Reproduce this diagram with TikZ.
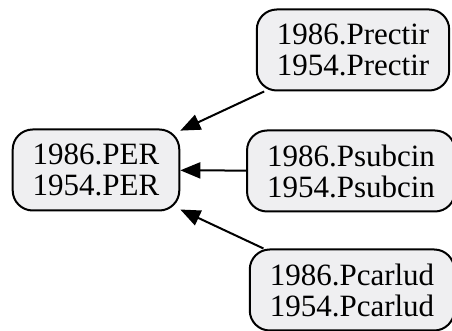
\documentclass[tikz,border=0pt]{standalone}
\usepackage{fontspec}
\setmainfont{Liberation Serif}
\usetikzlibrary{arrows.meta}
\definecolor{boxfill}{HTML}{EFEFF1}
\tikzset{
  var/.style={draw, line width=1pt, rounded corners=10pt, fill=boxfill,
    align=center, inner xsep=10pt, minimum height=40.5pt,
    font=\fontsize{15.5}{15.5}\selectfont},
  dep/.style={line width=1pt, -{Triangle[length=10pt,width=8pt]}}
}
\begin{document}
\begin{tikzpicture}[x=0.5pt,y=-0.5pt]
      % Fix the picture size
      \useasboundingbox (0,0) rectangle (452,331);

      % Draw the variable boxes
      \node[var] (per) at (96,170) {1986.PER\\1954.PER};
      \node[var] (prectir) at (353,50) {1986.Prectir\\1954.Prectir};
      \node[var] (psubcin) at (351,171) {1986.Psubcin\\1954.Psubcin};
      \node[var] (pcarlud) at (352,290) {1986.Pcarlud\\1954.Pcarlud};

      % Add the arrows into PER
      \draw[dep] (prectir) -- (per);
      \draw[dep] (psubcin) -- (per);
      \draw[dep] (pcarlud) -- (per);
    \end{tikzpicture}
\end{document}
